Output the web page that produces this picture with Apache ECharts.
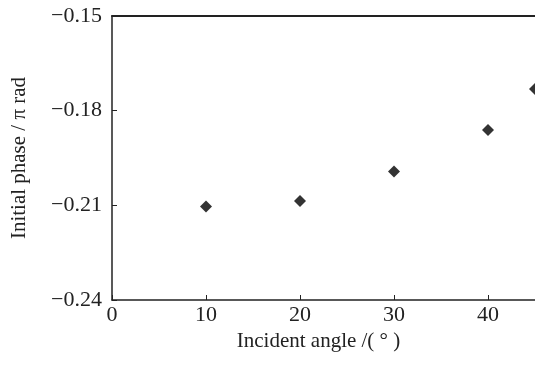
<!DOCTYPE html>
<html>
<head>
<meta charset="utf-8">
<script src="https://cdn.jsdelivr.net/npm/echarts@6/dist/echarts.min.js"></script>
<style>
    html, body { margin: 0; padding: 0; background: #fff; }
    #chart { width: 535px; height: 367px; }
</style>
</head>
<body>
<div id="chart"></div>
<script>
// incident angle (deg) and measured initial phase (in units of pi rad)
const angles = [10, 20, 30, 40, 45];
const phases = [-0.2104, -0.2086, -0.1993, -0.1861, -0.1731];

const xName = 'Incident angle /( ° )';
const yName = 'Initial phase / π rad';

const serif = 'Liberation Serif';

const chart = echarts.init(document.getElementById('chart'));

const option = {
    animation: false,
    grid: {
        left: 112,
        top: 16,
        width: 425,
        height: 284,
        containLabel: false,
    },
    xAxis: [
        {
            type: 'value',
            min: 0,
            max: 45,
            interval: 10,
            name: xName,
            nameLocation: 'middle',
            nameGap: 27,
            nameTextStyle: {
                fontFamily: serif,
                fontSize: 21,
                color: '#222',
                padding: [0, 10, 0, 0],
            },
            axisLine: { show: true, lineStyle: { color: '#222', width: 1.5 } },
            axisTick: { show: true, inside: true, length: 5, lineStyle: { color: '#222' } },
            axisLabel: {
                fontFamily: serif,
                fontSize: 22,
                color: '#222',
                margin: 4,
                showMaxLabel: false,
            },
            splitLine: { show: false },
        },
        {
            // top frame line only
            type: 'value',
            position: 'top',
            min: 0,
            max: 45,
            axisLine: { show: true, lineStyle: { color: '#222', width: 2 } },
            axisTick: { show: false },
            axisLabel: { show: false },
            splitLine: { show: false },
        },
    ],
    yAxis: {
        type: 'value',
        min: -0.24,
        max: -0.15,
        interval: 0.03,
        name: yName,
        nameLocation: 'middle',
        nameRotate: 90,
        nameGap: 82,
        nameTextStyle: {
            fontFamily: serif,
            fontSize: 21,
            color: '#222',
        },
        axisLine: { show: true, lineStyle: { color: '#222', width: 1.5 } },
        axisTick: { show: true, inside: true, length: 5, lineStyle: { color: '#222' } },
        axisLabel: {
            fontFamily: serif,
            fontSize: 22,
            color: '#222',
            margin: 10,
            formatter: function (v) {
                return '\u2212' + Math.abs(v).toFixed(2);
            },
        },
        splitLine: { show: false },
    },
    series: [
        {
            type: 'scatter',
            symbol: 'diamond',
            symbolSize: 12,
            clip: false,
            itemStyle: { color: '#000' },
            data: angles.map((a, i) => [a, phases[i]]),
        },
    ],
};
chart.setOption(option);
</script>
</body>
</html>
